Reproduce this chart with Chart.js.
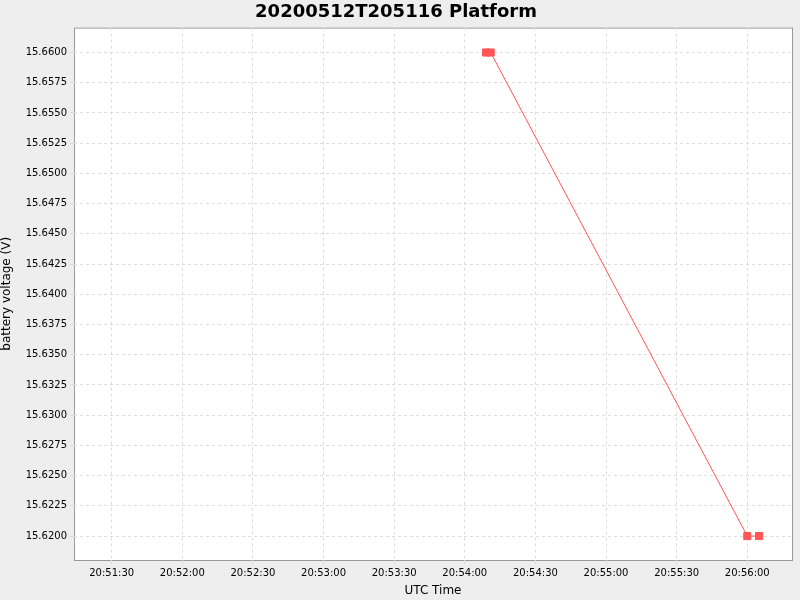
<!DOCTYPE html>
<html>
<head>
<meta charset="utf-8">
<script src="https://cdn.jsdelivr.net/npm/chart.js@4"></script>
<style>
  html, body { margin: 0; padding: 0; background: #eeeeee; }
  #wrap { width: 800px; height: 600px; }
</style>
</head>
<body>
<div id="wrap"><canvas id="chart" width="800" height="600"></canvas></div>
<script>
// data
const times = ['20:54:09', '20:54:11', '20:56:00', '20:56:05'];
const voltages = [15.66, 15.66, 15.62, 15.62];
const xMinTime = '20:51:14';
const xMaxTime = '20:56:19';

function toSec(t) {
  const p = t.split(':').map(Number);
  return p[0] * 3600 + p[1] * 60 + p[2];
}
function fmt(s) {
  const h = Math.floor(s / 3600), m = Math.floor((s % 3600) / 60), sec = Math.round(s % 60);
  return [h, m, sec].map(v => String(v).padStart(2, '0')).join(':');
}

const points = times.map((t, i) => ({ x: toSec(t), y: voltages[i] }));

// white plot area
const plotBg = {
  id: 'plotBg',
  beforeDraw(chart) {
    const a = chart.chartArea, c = chart.ctx;
    c.save();
    c.fillStyle = '#ffffff';
    c.fillRect(a.left, a.top, a.right - a.left, a.bottom - a.top);
    c.strokeStyle = '#999999';
    c.strokeRect(a.left + 0.5, a.top + 0.5, a.right - a.left, a.bottom - a.top);
    c.restore();
  }
};

const grid = { color: '#dddddd', tickLength: 4, drawTicks: true };
const dash = { display: true, dash: [3, 3] };

new Chart(document.getElementById('chart'), {
  type: 'line',
  data: {
    datasets: [{
      data: points,
      borderColor: '#ff5555',
      borderWidth: 1,
      backgroundColor: '#ff5555',
      pointStyle: 'rect',
      pointRadius: 5,
      pointHoverRadius: 5,
      tension: 0
    }]
  },
  options: {
    responsive: false,
    animation: false,
    layout: { padding: { right: 8 } },
    plugins: {
      legend: { display: false },
      tooltip: { enabled: false },
      title: {
        display: true,
        text: '20200512T205116 Platform',
        color: '#000000',
        font: { family: 'DejaVu Sans', size: 18, weight: 'bold' },
        padding: { top: 2, bottom: 4 }
      }
    },
    scales: {
      x: {
        type: 'linear',
        min: toSec(xMinTime),
        max: toSec(xMaxTime),
        grid: grid,
        border: { display: false, dash: [3, 3] },
        afterBuildTicks(scale) {
          const t = [];
          for (let v = Math.ceil(scale.min / 30) * 30; v <= scale.max; v += 30) t.push({ value: v });
          scale.ticks = t;
        },
        ticks: {
          color: '#000000',
          maxRotation: 0,
          font: { family: 'DejaVu Sans', size: 10 },
          callback: v => fmt(v)
        },
        title: {
          display: true,
          text: 'UTC Time',
          color: '#000000',
          font: { family: 'DejaVu Sans', size: 12 },
          padding: { top: 0, bottom: 2 }
        },
        afterFit(scale) { scale.height = 40; }
      },
      y: {
        min: 15.61802,
        max: 15.66206,
        grid: grid,
        border: { display: false, dash: [3, 3] },
        afterBuildTicks(scale) {
          const t = [];
          for (let i = 0; i <= 16; i++) t.push({ value: 15.62 + i * 0.0025 });
          scale.ticks = t;
        },
        ticks: {
          color: '#000000',
          font: { family: 'DejaVu Sans', size: 10 },
          callback: v => v.toFixed(4)
        },
        title: {
          display: true,
          text: 'battery voltage (V)',
          color: '#000000',
          font: { family: 'DejaVu Sans', size: 12 },
          padding: { top: 0, bottom: 4 }
        },
        afterFit(scale) { scale.width = 74; }
      }
    }
  },
  plugins: [plotBg]
});
</script>
</body>
</html>
